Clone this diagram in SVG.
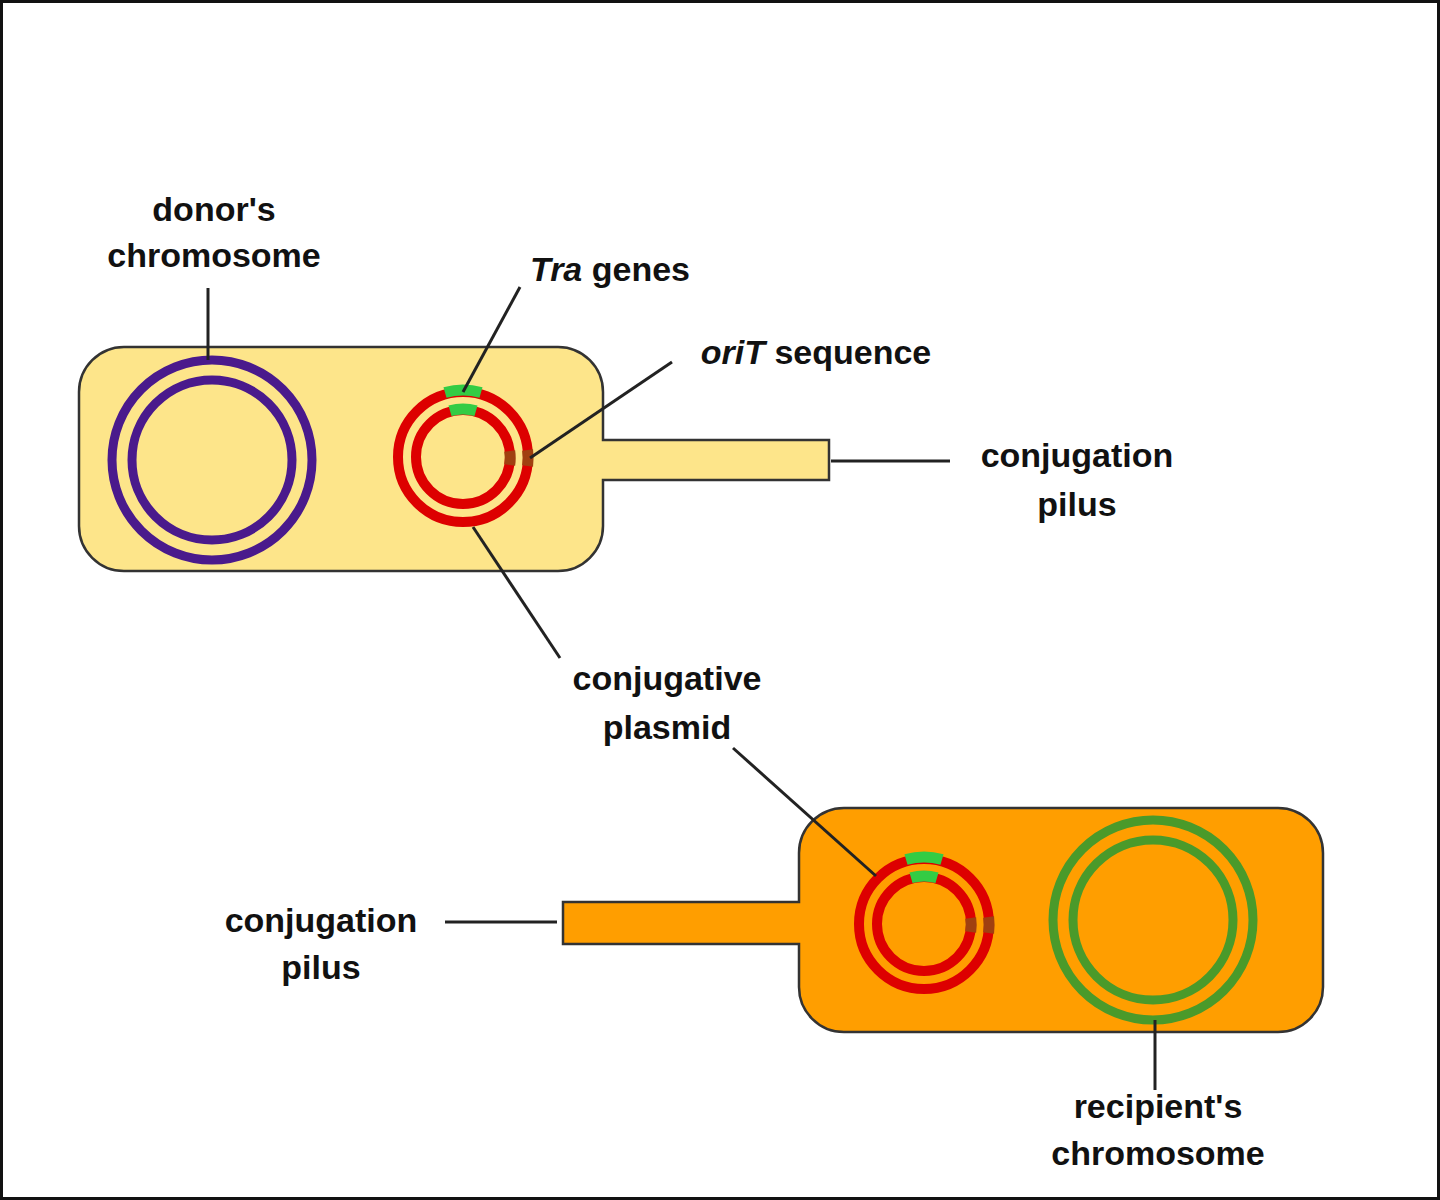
<svg xmlns="http://www.w3.org/2000/svg" width="1440" height="1200" viewBox="0 0 1440 1200">
<style>
text{font-family:"Liberation Sans",Arial,sans-serif;font-weight:bold;font-size:34px;fill:#111;text-anchor:middle}
.c{stroke:#222;stroke-width:3;fill:none}
.pl{fill:none;stroke:#dd0000;stroke-width:10}
.gr{fill:none;stroke:#33cc44;stroke-width:11}
.br{fill:none;stroke:#a04010;stroke-width:11}
</style>
<rect x="1.5" y="1.5" width="1437" height="1197" fill="#fff" stroke="#111" stroke-width="3"/>
<g id="donor">
<path d="M124,347 H558 A45,45 0 0 1 603,392 V440 H829 V480 H603 V526 A45,45 0 0 1 558,571 H124 A45,45 0 0 1 79,526 V392 A45,45 0 0 1 124,347 Z" fill="#fde58a" stroke="#333" stroke-width="2.5"/>
<circle cx="212" cy="460" r="100" fill="none" stroke="#4a1a8c" stroke-width="9"/>
<circle cx="212" cy="460" r="80" fill="none" stroke="#4a1a8c" stroke-width="9"/>
<circle cx="463" cy="457" r="65" class="pl"/>
<circle cx="463" cy="457" r="47" class="pl"/>
<path d="M445,392.5 A65,65 0 0 1 481,392.5" class="gr"/>
<path d="M450,410.8 A47,47 0 0 1 476,410.8" class="gr"/>
<path d="M527.6,450 A65,65 0 0 1 527.6,466" class="br" stroke-width="10"/>
<path d="M509.7,451 A47,47 0 0 1 509.7,465" class="br" stroke-width="10"/>
</g>
<g id="recipient">
<path d="M844,808 H1278 A45,45 0 0 1 1323,853 V987 A45,45 0 0 1 1278,1032 H844 A45,45 0 0 1 799,987 V944 H563 V902 H799 V853 A45,45 0 0 1 844,808 Z" fill="#ff9e00" stroke="#333" stroke-width="2.5"/>
<circle cx="1153" cy="920" r="100" fill="none" stroke="#4a9a2a" stroke-width="9"/>
<circle cx="1153" cy="920" r="80" fill="none" stroke="#4a9a2a" stroke-width="9"/>
<circle cx="924" cy="924" r="65" class="pl"/>
<circle cx="924" cy="924" r="47" class="pl"/>
<path d="M906,859.5 A65,65 0 0 1 942,859.5" class="gr"/>
<path d="M911,877.8 A47,47 0 0 1 937,877.8" class="gr"/>
<path d="M988.6,917 A65,65 0 0 1 988.6,933" class="br" stroke-width="10"/>
<path d="M970.7,918 A47,47 0 0 1 970.7,932" class="br" stroke-width="10"/>
</g>
<g id="connectors">
<line class="c" x1="208" y1="288" x2="208" y2="360"/>
<line class="c" x1="520" y1="287" x2="463" y2="392"/>
<line class="c" x1="672" y1="362" x2="530" y2="458"/>
<line class="c" x1="831" y1="461" x2="950" y2="461"/>
<line class="c" x1="473" y1="527" x2="560" y2="658"/>
<line class="c" x1="733" y1="748" x2="876" y2="876"/>
<line class="c" x1="1155" y1="1020" x2="1155" y2="1090"/>
<line class="c" x1="445" y1="922" x2="557" y2="922"/>
</g>
<g id="labels">
<text x="214" y="221">donor's</text>
<text x="214" y="267">chromosome</text>
<text x="610" y="281"><tspan font-style="italic">Tra</tspan> genes</text>
<text x="816" y="364"><tspan font-style="italic">oriT</tspan> sequence</text>
<text x="1077" y="467">conjugation</text>
<text x="1077" y="516">pilus</text>
<text x="667" y="690">conjugative</text>
<text x="667" y="739">plasmid</text>
<text x="321" y="932">conjugation</text>
<text x="321" y="979">pilus</text>
<text x="1158" y="1118">recipient's</text>
<text x="1158" y="1165">chromosome</text>
</g>
</svg>
